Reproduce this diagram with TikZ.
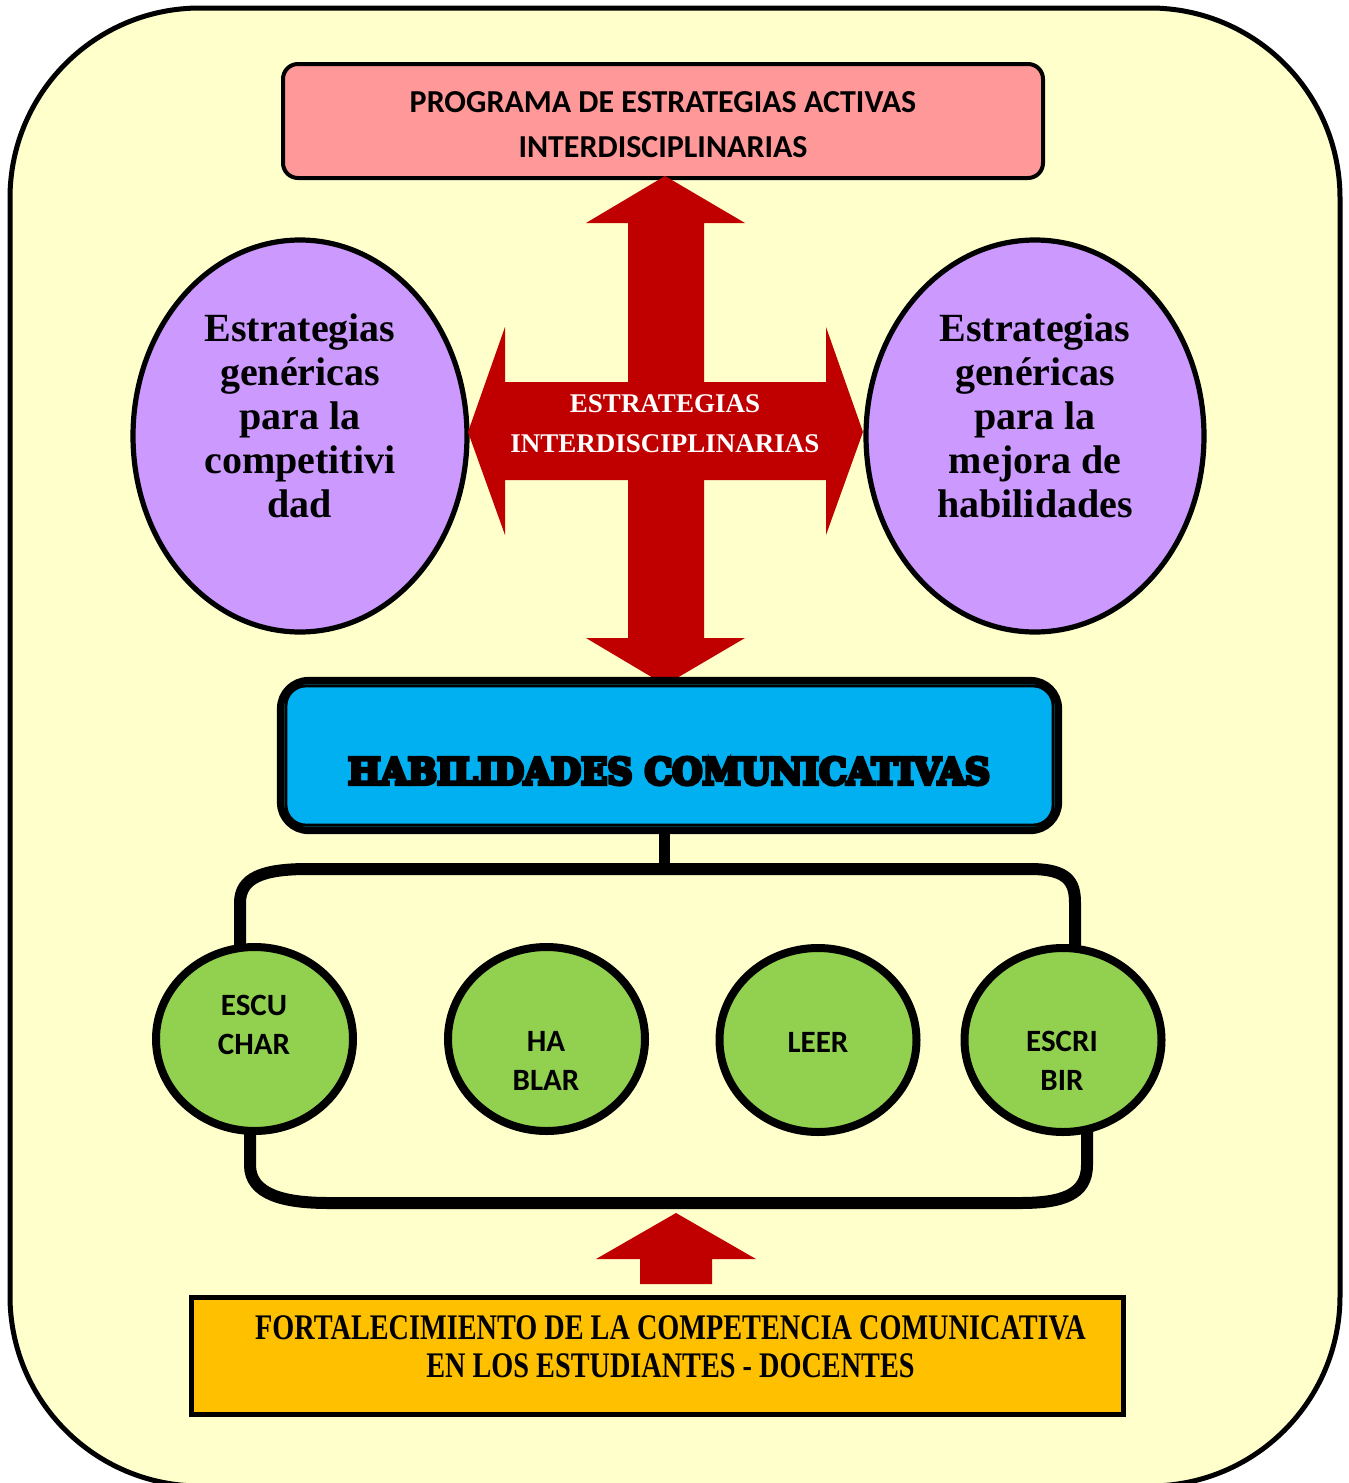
\documentclass[tikz,border=0pt]{standalone}
\usepackage{fontspec}
\setmainfont{Liberation Serif}
\newfontfamily\calib{Carlito}
\newfontfamily\condserif[FakeStretch=0.785]{Liberation Serif}
\newfontfamily\heavyserif[UprightFont={* Bold}, FakeBold=10]{DejaVu Serif}
\usetikzlibrary{shapes.geometric,calc}
\pgfdeclarelayer{bg}
\pgfsetlayers{bg,main}
\definecolor{bgyellow}{HTML}{FFFFCC}
\definecolor{pinkc}{HTML}{FF9999}
\definecolor{redc}{HTML}{C00000}
\definecolor{purplec}{HTML}{CC99FF}
\definecolor{bluec}{HTML}{00B0F0}
\definecolor{greenc}{HTML}{92D050}
\definecolor{orangec}{HTML}{FFC000}
\tikzset{
  purpleell/.style={ellipse, draw, line width=2.6pt, fill=purplec, inner sep=0pt},
  ptext/.style={font=\bfseries\fontsize{20}{22}\selectfont, align=center},
  gcirc/.style={ellipse, draw, line width=4pt, fill=greenc, inner sep=0pt,
    minimum width=98.5pt, minimum height=92pt},
  gtext/.style={font=\calib\bfseries\fontsize{15.5}{19.5}\selectfont, align=center},
  brk/.style={line width=6pt},
}
\begin{document}
\begin{tikzpicture}[x=0.5pt,y=-0.5pt]
\useasboundingbox (0,0) rectangle (1349,1483);
\begin{pgfonlayer}{bg}
\fill[white] (0,0) rectangle (1349,1483);
\draw[line width=2.5pt, fill=bgyellow, rounded corners=95pt] (10,8) rectangle (1340,1486);
\end{pgfonlayer}

% top box
\node[draw, line width=2pt, fill=pinkc, rounded corners=7.5pt, inner sep=0pt,
  minimum width=380pt, minimum height=57pt] (prog) at (663,121) {};
\node[align=center, font=\calib\bfseries\fontsize{16}{22.5}\selectfont] (progtxt)
  at (663,124.5) {PROGRAMA DE ESTRATEGIAS ACTIVAS\\INTERDISCIPLINARIAS};

% side ellipses
\node[purpleell, minimum width=167pt, minimum height=196pt] (left) at (300,436) {};
\node[ptext] (lefttxt) at (300,416) {Estrategias\\genéricas\\para la\\competitivi\\dad};
\node[purpleell, minimum width=169pt, minimum height=196pt] (right) at (1035,436) {};
\node[ptext] (righttxt) at (1035,416) {Estrategias\\genéricas\\para la\\mejora de\\habilidades};

% cross arrow
\fill[redc] (665,176) -- (745,223) -- (704,223) -- (704,382) -- (826,382) -- (826,327)
  -- (863,432) -- (826,535) -- (826,480) -- (704,480) -- (704,638) -- (745,638)
  -- (665,685) -- (586,638) -- (628,638) -- (628,480) -- (505,480) -- (505,535)
  -- (468,432) -- (505,327) -- (505,382) -- (628,382) -- (628,223) -- (586,223) -- cycle;
\node[font=\bfseries\fontsize{13.5}{20}\selectfont, text=white, align=center] (crosstxt)
  at (665,424) {ESTRATEGIAS\\INTERDISCIPLINARIAS};

% blue box
\node[draw, line width=3.6pt, fill=bluec, rounded corners=14pt, inner sep=0pt,
  minimum width=389pt, minimum height=75pt] (hab) at (669.5,755.5) {};
\draw[line width=1.5pt, rounded corners=10pt]
  ($(hab.north west)+(9,9)$) rectangle ($(hab.south east)+(-9,-9)$);
\node[font=\heavyserif, inner sep=0pt] (habtxt) at (669,771)
  {\resizebox{321pt}{13.5pt}{HABILIDADES COMUNICATIVAS}};

% green circles
\node[gcirc] (escu) at (254.5,1039) {};
\node[gtext] (escutxt) at (254,1025) {ESCU\\CHAR};
\node[gcirc] (habl) at (546.5,1039) {};
\node[gtext] (habltxt) at (546,1061) {HA\\BLAR};
\node[gcirc] (leer) at (818,1040) {};
\node[gtext] (leertxt) at (818,1042) {LEER};
\node[gcirc] (escr) at (1063,1040) {};
\node[gtext] (escrtxt) at (1062,1061) {ESCRI\\BIR};

% connectors / brackets
\coordinate (brtop) at (664,869);
\begin{pgfonlayer}{bg}
\draw[line width=5.5pt] (hab.south -| brtop) -- (brtop);
\draw[brk] ($(escu.center)+(-14.5,0)$) -- (240,903)
  .. controls (240,878) and (262,869) .. (308,869) -- (1030,869)
  .. controls (1068,869) and (1075,882) .. (1075,903) -- ($(escr.center)+(12,0)$);
\draw[brk] ($(escu.center)+(-4.5,0)$) -- (250,1165)
  .. controls (250,1195) and (285,1203) .. (329,1203) -- (1020,1203)
  .. controls (1062,1203) and (1087,1195) .. (1087,1165) -- ($(escr.center)+(24,0)$);
\end{pgfonlayer}

% bottom arrow
\fill[redc] (676,1213) -- (756,1259) -- (712,1259) -- (712,1284) -- (640,1284)
  -- (640,1259) -- (596,1259) -- cycle;

% bottom box
\node[draw, line width=2.5pt, fill=orangec, inner sep=0pt,
  minimum width=466pt, minimum height=58.5pt] (fort) at (657,1355.5) {};
\node[font=\condserif\bfseries\fontsize{18}{19}\selectfont, align=center] (forttxt)
  at (670.5,1347) {FORTALECIMIENTO DE LA COMPETENCIA COMUNICATIVA\\EN LOS ESTUDIANTES - DOCENTES};
\end{tikzpicture}
\end{document}
